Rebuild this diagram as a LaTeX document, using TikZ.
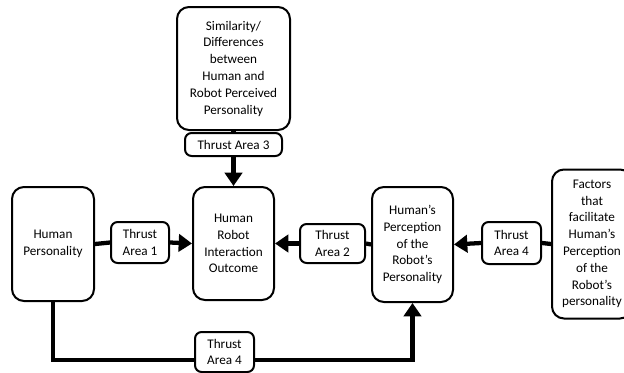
\documentclass[tikz,border=0pt]{standalone}
\usepackage{fontspec}
\setmainfont{Carlito}
\usetikzlibrary{positioning,arrows.meta}

\begin{document}
\begin{tikzpicture}[x=0.75pt,y=-0.75pt,font=\fontsize{9.9}{12.6}\selectfont,
  bigbox/.style={draw,line width=1.5pt,rounded corners=9pt,align=center,inner sep=0pt},
  tbox/.style={draw,line width=1.5pt,rounded corners=5pt,align=center,inner sep=0pt},
  link/.style={line width=3.2pt},
  arr/.style={line width=3.2pt,-{Triangle[length=10pt,width=13pt]}}]
\useasboundingbox (0,0) rectangle (624,372);
% main boxes
\node[bigbox,minimum width=61.5pt,minimum height=85.5pt] (humpers) at (53,244) {Human\\Personality};
\node[bigbox,minimum width=60.75pt,minimum height=84.75pt] (hri) at (233.5,243.5) {Human\\Robot\\Interaction\\Outcome};
\node[bigbox,minimum width=84.75pt,minimum height=92.25pt] (simil) at (233.5,68.5) {Similarity/\\Differences\\between\\Human and\\Robot Perceived\\Personality};
\node[bigbox,minimum width=60.75pt,minimum height=86.25pt] (percep) at (412.5,244.5) {Human’s\\Perception\\of the\\Robot’s\\Personality};
\node[bigbox,minimum width=60pt,minimum height=111.75pt] (factors) at (592,244) {Factors\\that\\facilitate\\Human’s\\Perception\\of the\\Robot’s\\personality};
% thrust areas
\node[tbox,minimum width=72.75pt,minimum height=17.25pt] (ta3) at (233.5,144.5) {Thrust Area 3};
\node[tbox,minimum width=43.5pt,minimum height=30.75pt] (ta1) at (140,242.5) {Thrust\\Area 1};
\node[tbox,minimum width=48.75pt,minimum height=29.25pt] (ta2) at (332.5,243.5) {Thrust\\Area 2};
\node[tbox,minimum width=44.25pt,minimum height=31.5pt] (ta4r) at (511.5,243) {Thrust\\Area 4};
\node[tbox,minimum width=44.25pt,minimum height=30pt] (ta4b) at (224.5,352) {Thrust\\Area 4};
\coordinate (lowrail) at (0,360);
% connectors
\draw[link] (humpers.east) -- (ta1.west);
\draw[arr] (ta1.east) -- (hri.west);
\draw[link] (simil.south) -- (ta3.north);
\draw[arr] (ta3.south) -- (hri.north);
\draw[link] (percep.west) -- (ta2.east);
\draw[arr] (ta2.west) -- (hri.east);
\draw[link] (factors.west) -- (ta4r.east);
\draw[arr] (ta4r.west) -- (percep.east);
\draw[link] (humpers.south) |- (ta4b.west |- lowrail);
\draw[arr] (ta4b.east |- lowrail) -| (percep.south);
\end{tikzpicture}
\end{document}
